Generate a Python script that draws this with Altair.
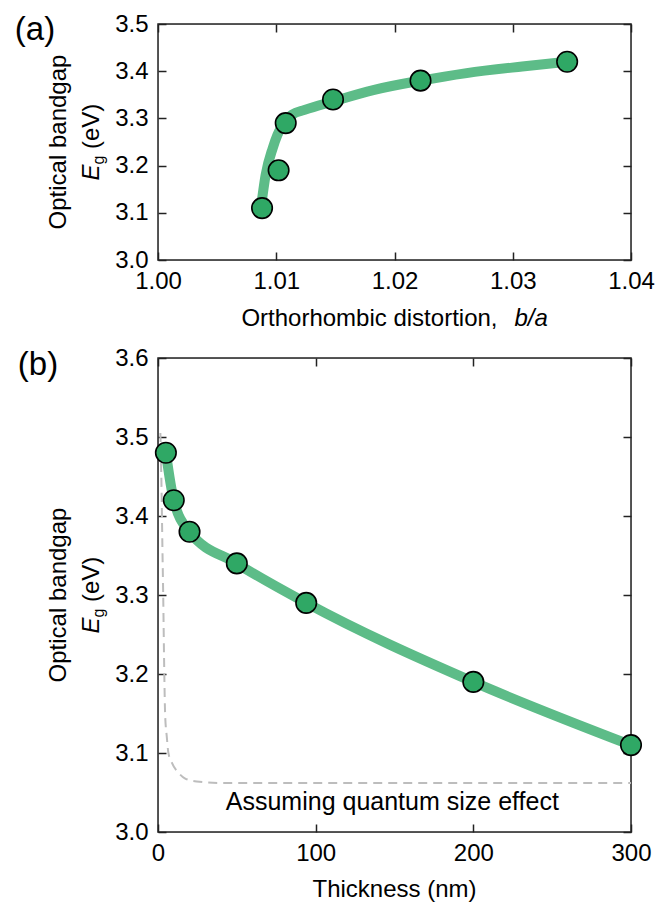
import altair as alt
import pandas as pd

FONT = "Liberation Sans"
FS = 24

# ---------------- data ----------------
# panel (a)
ba_ratio = [1.0088, 1.0102, 1.0108, 1.0148, 1.0222, 1.0346]
eg_a = [3.11, 3.19, 3.29, 3.34, 3.38, 3.42]
fit_a_x = [1.0087, 1.0091, 1.0097, 1.0101, 1.0107, 1.01135, 1.0124, 1.0148, 1.0182, 1.0222, 1.0261, 1.0308, 1.0346]
fit_a_y = [3.11, 3.18, 3.237, 3.265, 3.293, 3.308, 3.318, 3.336, 3.36, 3.38, 3.396, 3.41, 3.42]

# panel (b)
thickness = [5, 10, 20, 50, 94, 200, 300]
eg_b = [3.48, 3.42, 3.38, 3.34, 3.29, 3.19, 3.11]
qse_x = [1.5, 2.2, 2.8, 3.3, 4.0, 4.5, 5.6, 6.6, 8.7, 13, 17, 24.5, 40, 300]
qse_y = [3.505, 3.44, 3.36, 3.30, 3.20, 3.15, 3.12, 3.10, 3.088, 3.075, 3.068, 3.064, 3.062, 3.062]

xa_ticks = [1.00, 1.01, 1.02, 1.03, 1.04]
ya_ticks = [3.0, 3.1, 3.2, 3.3, 3.4, 3.5]
xb_ticks = [0, 100, 200, 300]
yb_ticks = [3.0, 3.1, 3.2, 3.3, 3.4, 3.5, 3.6]

LINE_GREEN = "#5dbc88"
DOT_GREEN = "#2fa865"
FRAME = "#222222"

W = 473
HA = 236
HB = 474

df_a = pd.DataFrame({"x": ba_ratio, "y": eg_a})
df_fa = pd.DataFrame({"x": fit_a_x, "y": fit_a_y})
df_b = pd.DataFrame({"x": thickness, "y": eg_b})
df_q = pd.DataFrame({"x": qse_x, "y": qse_y})


def ax(orient, values, fmt=None, labels=True):
    kw = dict(orient=orient, values=values, title=None, domain=False, grid=False,
              tickSize=8, offset=-8, tickColor=FRAME, tickWidth=1.5,
              labels=labels, labelOverlap=False, labelFlush=False)
    if labels:
        kw.update(labelFont=FONT, labelFontSize=FS, labelColor="black", format=fmt,
                  labelPadding=9 if orient == "bottom" else 10)
    return alt.Axis(**kw)


def one():
    return alt.Data(values=[{"t": 1}])


def txt(s, x, y, size=FS, angle=0, align="center", style="normal"):
    return alt.Chart(one()).mark_text(
        text=s, font=FONT, fontSize=size, angle=angle, align=align,
        baseline="middle", fontStyle=style, color="black"
    ).encode(x=alt.value(x), y=alt.value(y))


def frame(h):
    return alt.Chart(one()).mark_rect(fill=None, stroke=FRAME, strokeWidth=1.5).encode(
        x=alt.value(0), x2=alt.value(W), y=alt.value(0), y2=alt.value(h))


def ytitle(h):
    c = h / 2
    return [
        txt("Optical bandgap", -99.5, c, angle=270),
        txt("E", -66.5, c + 38.5, angle=270, align="left", style="italic"),
        txt("g", -66.5 + 7, c + 22.5, size=16, angle=270, align="left"),
        txt("(eV)", -66.5, c + 7, angle=270, align="left"),
    ]


# ---------------- panel (a) ----------------
xa_scale = alt.Scale(domain=[1.00, 1.04], nice=False, zero=False)
ya_scale = alt.Scale(domain=[3.0, 3.5], nice=False, zero=False)

line_a = alt.Chart(df_fa).mark_line(color=LINE_GREEN, strokeWidth=10, interpolate="monotone").encode(
    x=alt.X("x:Q", scale=xa_scale, axis=ax("bottom", xa_ticks, ".2f")),
    y=alt.Y("y:Q", scale=ya_scale, axis=ax("left", ya_ticks, ".1f")),
)
pts_a = alt.Chart(df_a).mark_point(filled=True, shape="circle", size=420, fill=DOT_GREEN,
                                   stroke="black", strokeWidth=1.6, opacity=1).encode(
    x=alt.X("x:Q", scale=xa_scale, axis=ax("top", xa_ticks, labels=False)),
    y=alt.Y("y:Q", scale=ya_scale, axis=ax("right", ya_ticks, labels=False)),
)
panel_a = alt.layer(
    frame(HA), line_a, pts_a,
    txt("(a)", -123, 6, size=33),
    *ytitle(HA),
    txt("Orthorhombic distortion,", W / 2 + 103, HA + 59, align="right"),
    txt("b/a", W / 2 + 120, HA + 59, align="left", style="italic"),
).resolve_axis(x="independent", y="independent").properties(width=W, height=HA)

# ---------------- panel (b) ----------------
xb_scale = alt.Scale(domain=[0, 300], nice=False, zero=False)
yb_scale = alt.Scale(domain=[3.0, 3.6], nice=False, zero=False)

dash_b = alt.Chart(df_q).mark_line(color="#bdbdbd", strokeWidth=2, strokeDash=[9, 6],
                                   interpolate="monotone").encode(
    x=alt.X("x:Q", scale=xb_scale, axis=None),
    y=alt.Y("y:Q", scale=yb_scale, axis=None),
)
line_b = alt.Chart(df_b).mark_line(color=LINE_GREEN, strokeWidth=10, interpolate="monotone").encode(
    x=alt.X("x:Q", scale=xb_scale, axis=ax("bottom", xb_ticks, "d")),
    y=alt.Y("y:Q", scale=yb_scale, axis=ax("left", yb_ticks, ".1f")),
)
pts_b = alt.Chart(df_b).mark_point(filled=True, shape="circle", size=420, fill=DOT_GREEN,
                                   stroke="black", strokeWidth=1.6, opacity=1).encode(
    x=alt.X("x:Q", scale=xb_scale, axis=ax("top", xb_ticks, labels=False)),
    y=alt.Y("y:Q", scale=yb_scale, axis=ax("right", yb_ticks, labels=False)),
)
note_b = alt.Chart(one()).mark_text(
    text="Assuming quantum size effect", font=FONT, fontSize=25, color="black",
    align="center", baseline="middle"
).encode(x=alt.datum(148.6, scale=xb_scale, axis=None),
         y=alt.datum(3.038, scale=yb_scale, axis=None))

panel_b = alt.layer(
    frame(HB), dash_b, line_b, pts_b, note_b,
    txt("(b)", -120, 7, size=33),
    *ytitle(HB),
    txt("Thickness (nm)", W / 2, HB + 58),
).resolve_axis(x="independent", y="independent").properties(width=W, height=HB)

chart = alt.vconcat(panel_a, panel_b, spacing=13).properties(
    padding={"left": 14, "top": 11, "right": 5, "bottom": 2}
).configure_view(stroke=None).configure(font=FONT)

chart.save("out.html", embed_options={"renderer": "svg", "actions": False})
